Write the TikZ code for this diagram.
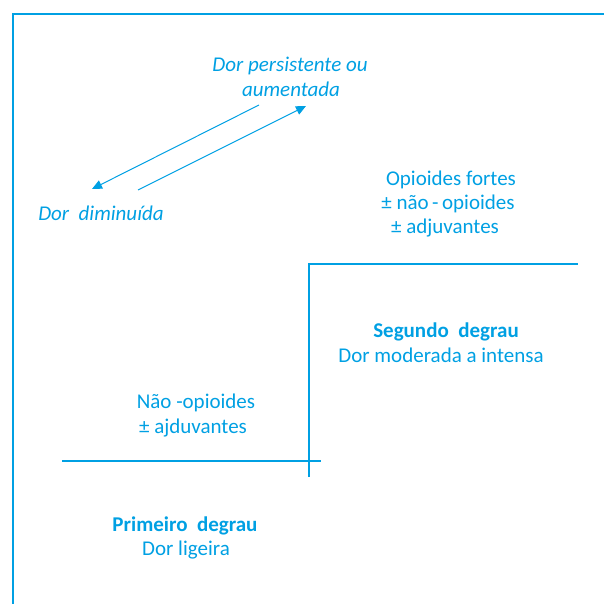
\documentclass[tikz,border=0pt]{standalone}
\usepackage{fontspec}
\setmainfont{Carlito}
\usetikzlibrary{arrows.meta}
\definecolor{ladder}{RGB}{0,160,227}
\tikzset{
  lbl/.style={anchor=base, text=ladder, inner sep=0pt, font=\fontsize{21}{24}\selectfont},
  ilbl/.style={lbl, font=\fontsize{21}{24}\selectfont\itshape},
  blbl/.style={lbl, font=\fontsize{21}{24}\selectfont\bfseries},
  stepline/.style={draw=ladder, line width=1.6pt},
  frameline/.style={draw=ladder, line width=2.4pt},
  arr/.style={draw=ladder, line width=1pt, -{Triangle[length=10pt,width=9pt]}}
}
\begin{document}
\begin{tikzpicture}[x=1pt,y=-1pt]
\useasboundingbox (0,0) rectangle (603,604);
% frame
\coordinate (fbl) at (13,610);
\coordinate (ftl) at (13,14);
\coordinate (ftr) at (610,14);
\draw[frameline] (fbl) -- (ftl) -- (ftr);
% step lines
\coordinate (s1) at (62,461);
\coordinate (s2) at (321,461);
\coordinate (s3) at (309,477);
\coordinate (s4) at (309,264);
\coordinate (s5) at (578,264);
\draw[stepline] (s1) -- (s2);
\draw[stepline] (s3) -- (s4) -- (s5);
% arrows
\coordinate (a1s) at (259,105);
\coordinate (a1e) at (92,189);
\coordinate (a2s) at (138,190);
\coordinate (a2e) at (306,106);
\draw[arr] (a1s) -- (a1e);
\draw[arr] (a2s) -- (a2e);
% texts
\node[ilbl] (t1a) at (290,72) {Dor persistente ou};
\node[ilbl] (t1b) at (291,97) {aumentada};
\node[ilbl] (t2) at (101,220) {Dor\ \ diminuída};
\node[lbl] (t3a) at (451,185) {Opioides fortes};
\node[lbl] (t3b) at (448,209) {± não\,-\,opioides};
\node[lbl] (t3c) at (445,233) {± adjuvantes};
\node[blbl] (t4a) at (446,337) {Segundo\ \ degrau};
\node[lbl] (t4b) at (441,362) {Dor moderada a intensa};
\node[lbl] (t5a) at (196,408) {Não -opioides};
\node[lbl] (t5b) at (193,433) {± ajduvantes};
\node[blbl] (t6a) at (185,531) {Primeiro\ \ degrau};
\node[lbl] (t6b) at (186,555) {Dor ligeira};
\end{tikzpicture}
\end{document}
